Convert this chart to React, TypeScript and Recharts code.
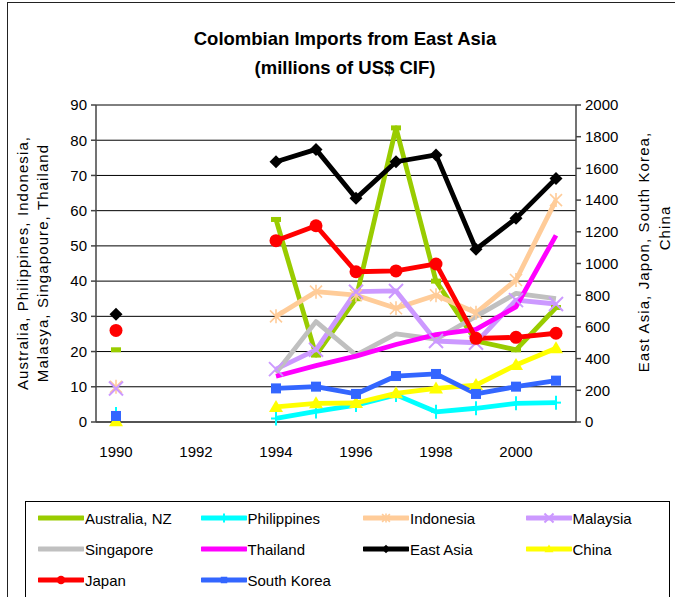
import React from 'react';
import { LineChart, Line, XAxis, YAxis, CartesianGrid } from 'recharts';

// yearly imports, millions of US$ CIF (1991-1993 not reported)
const years = [1990, 1991, 1992, 1993, 1994, 1995, 1996, 1997, 1998, 1999, 2000, 2001];

// left axis
const australiaNZ = [20.5, null, null, null, 57.5, 19, 35, 83.5, 40, 23, 20.5, 32.5];
const philippines = [2.3, null, null, null, 1, 3, 4.8, 7.7, 2.9, 3.9, 5.3, 5.5];
const indonesia = [10, null, null, null, 30, 37, 36, 32.3, 36, 31, 40.3, 63];
const malaysia = [9.5, null, null, null, 15, 20.5, 37, 37.2, 23, 22.5, 34.6, 33.5];
const singapore = [null, null, null, null, 14, 28.5, 19, 25, 23.5, 30, 36.5, 35];
const thailand = [null, null, null, null, 13, 16, 18.7, 22, 24.8, 26.3, 32.7, 53];

// right axis
const eastAsia = [680, null, null, null, 1642, 1720, 1411, 1642, 1685, 1090, 1285, 1537];
const china = [5, null, null, null, 95, 118, 120, 181, 212, 233, 360, 465];
const japan = [578, null, null, null, 1144, 1238, 948, 953, 997, 528, 534, 560];
const southKorea = [38, null, null, null, 212, 223, 177, 290, 303, 177, 223, 261];

const leftTicks = [0, 10, 20, 30, 40, 50, 60, 70, 80, 90];
const rightTicks = [0, 200, 400, 600, 800, 1000, 1200, 1400, 1600, 1800, 2000];
const yearLabels = [1990, 1992, 1994, 1996, 1998, 2000];
const yearBounds = [1989.5, 1990.5, 1991.5, 1992.5, 1993.5, 1994.5, 1995.5, 1996.5, 1997.5, 1998.5, 1999.5, 2000.5, 2001.5];

type MarkerKind = 'dash' | 'plus' | 'asterisk' | 'cross' | 'diamond' | 'triangle' | 'circle' | 'square' | 'none';

type Series = {
  key: string;
  name: string;
  color: string;
  axis: 'left' | 'right';
  marker: MarkerKind;
  values: (number | null)[];
};

// draw order: primary axis first, then secondary
const series: Series[] = [
  { key: 'australiaNZ', name: 'Australia, NZ', color: '#99CC00', axis: 'left', marker: 'dash', values: australiaNZ },
  { key: 'philippines', name: 'Philippines', color: '#00FFFF', axis: 'left', marker: 'plus', values: philippines },
  { key: 'indonesia', name: 'Indonesia', color: '#FFCC99', axis: 'left', marker: 'asterisk', values: indonesia },
  { key: 'malaysia', name: 'Malaysia', color: '#CC99FF', axis: 'left', marker: 'cross', values: malaysia },
  { key: 'singapore', name: 'Singapore', color: '#C0C0C0', axis: 'left', marker: 'none', values: singapore },
  { key: 'thailand', name: 'Thailand', color: '#FF00FF', axis: 'left', marker: 'none', values: thailand },
  { key: 'eastAsia', name: 'East Asia', color: '#000000', axis: 'right', marker: 'diamond', values: eastAsia },
  { key: 'china', name: 'China', color: '#FFFF00', axis: 'right', marker: 'triangle', values: china },
  { key: 'japan', name: 'Japan', color: '#FF0000', axis: 'right', marker: 'circle', values: japan },
  { key: 'southKorea', name: 'South Korea', color: '#3366FF', axis: 'right', marker: 'square', values: southKorea },
];

const data = years.map((year, i) => {
  const row: Record<string, number | null> = { year };
  series.forEach((s) => {
    row[s.key] = s.values[i];
  });
  return row;
});

const FONT = '"Liberation Sans", Arial, sans-serif';

function Marker({ kind, x, y, color, k = 1 }: { kind: MarkerKind; x: number; y: number; color: string; k?: number }) {
  switch (kind) {
    case 'dash':
      return <rect x={x - 5 * k} y={y - 2.5 * k} width={10 * k} height={5 * k} fill={color} />;
    case 'plus':
      return (
        <g stroke={color} strokeWidth={2}>
          <line x1={x} y1={y - 7 * k} x2={x} y2={y + 7 * k} />
          <line x1={x - 5 * k} y1={y} x2={x + 5 * k} y2={y} />
        </g>
      );
    case 'asterisk':
      return (
        <g stroke={color} strokeWidth={1.6}>
          <line x1={x} y1={y - 7 * k} x2={x} y2={y + 7 * k} />
          <line x1={x - 6 * k} y1={y - 6 * k} x2={x + 6 * k} y2={y + 6 * k} />
          <line x1={x - 6 * k} y1={y + 6 * k} x2={x + 6 * k} y2={y - 6 * k} />
        </g>
      );
    case 'cross':
      return (
        <g stroke={color} strokeWidth={2}>
          <line x1={x - 7 * k} y1={y - 7 * k} x2={x + 7 * k} y2={y + 7 * k} />
          <line x1={x - 7 * k} y1={y + 7 * k} x2={x + 7 * k} y2={y - 7 * k} />
        </g>
      );
    case 'diamond':
      return (
        <polygon
          points={`${x},${y - 6.5 * k} ${x + 6.5 * k},${y} ${x},${y + 6.5 * k} ${x - 6.5 * k},${y}`}
          fill={color}
        />
      );
    case 'triangle':
      return (
        <polygon points={`${x},${y - 7 * k} ${x + 7 * k},${y + 5 * k} ${x - 7 * k},${y + 5 * k}`} fill={color} />
      );
    case 'circle':
      return <circle cx={x} cy={y} r={6.5 * k} fill={color} />;
    case 'square':
      return <rect x={x - 5 * k} y={y - 5 * k} width={10 * k} height={10 * k} fill={color} />;
    default:
      return null;
  }
}

function makeDot(s: Series) {
  return (p: any) => {
    if (s.marker === 'none' || p.value == null || p.cy == null || Number.isNaN(p.cy)) {
      return <g key={`${s.key}-${p.index}`} />;
    }
    return (
      <g key={`${s.key}-${p.index}`}>
        <Marker kind={s.marker} x={p.cx} y={p.cy} color={s.color} />
      </g>
    );
  };
}

function LegendBox() {
  return (
    <div
      style={{
        position: 'absolute',
        left: 25,
        top: 501,
        width: 645,
        height: 120,
        border: '1px solid #000',
        boxSizing: 'border-box',
        background: '#fff',
      }}
    >
      {series.map((s, i) => {
        const col = i % 4;
        const row = Math.floor(i / 4);
        return (
          <div
            key={s.key}
            style={{
              position: 'absolute',
              left: 12 + col * 162.5,
              top: 16 + row * 31 - 10,
              height: 20,
              display: 'flex',
              alignItems: 'center',
              fontFamily: FONT,
              fontSize: 15,
              color: '#000',
              whiteSpace: 'nowrap',
            }}
          >
            <svg width={46} height={20} style={{ display: 'block' }}>
              <line x1={1} y1={10} x2={45} y2={10} stroke={s.color} strokeWidth={5} strokeLinecap="round" />
              <Marker kind={s.marker} x={23} y={10} color={s.color} k={0.65} />
            </svg>
            <span style={{ marginLeft: 1 }}>{s.name}</span>
          </div>
        );
      })}
    </div>
  );
}

export default function App() {
  const tickStyle = { fontFamily: FONT, fontSize: 15, fill: '#000' };
  return (
    <div
      style={{
        position: 'absolute',
        left: 0,
        top: 0,
        width: 675,
        height: 597,
        overflow: 'hidden',
        background: '#fff',
      }}
    >
      {/* chart frame */}
      <div
        style={{
          position: 'absolute',
          left: 7,
          top: 2,
          width: 720,
          height: 700,
          border: '1px solid #222',
          boxSizing: 'border-box',
        }}
      />
      <LineChart
        width={675}
        height={597}
        data={data}
        margin={{ top: 105, right: 49, bottom: 140, left: 56 }}
        style={{ position: 'absolute', left: 0, top: 0 }}
      >
        <XAxis
          xAxisId="frame"
          dataKey="year"
          type="number"
          domain={[1989.5, 2001.5]}
          ticks={yearBounds}
          tick={false}
          height={5}
          tickSize={5}
          axisLine={{ stroke: '#444', strokeWidth: 1.5 }}
          tickLine={{ stroke: '#444', strokeWidth: 1.5 }}
          allowDataOverflow
        />
        <XAxis
          xAxisId="labels"
          dataKey="year"
          type="number"
          domain={[1989.5, 2001.5]}
          ticks={yearLabels}
          height={30}
          tickSize={0}
          tickMargin={19}
          axisLine={false}
          tickLine={false}
          tick={tickStyle}
          interval={0}
          allowDataOverflow
        />
        <YAxis
          yAxisId="left"
          domain={[0, 90]}
          ticks={leftTicks}
          width={40}
          tickSize={5}
          tickMargin={4}
          interval={0}
          axisLine={{ stroke: '#444', strokeWidth: 1.5 }}
          tickLine={{ stroke: '#444', strokeWidth: 1.5 }}
          tick={tickStyle}
        />
        <YAxis
          yAxisId="right"
          orientation="right"
          domain={[0, 2000]}
          ticks={rightTicks}
          width={50}
          tickSize={5}
          tickMargin={4}
          interval={0}
          axisLine={{ stroke: '#444', strokeWidth: 1.5 }}
          tickLine={{ stroke: '#444', strokeWidth: 1.5 }}
          tick={tickStyle}
        />
        <CartesianGrid xAxisId="frame" yAxisId="left" vertical={false} stroke="#000" strokeWidth={1} />
        {series.map((s) => (
          <Line
            key={s.key}
            xAxisId="frame"
            yAxisId={s.axis}
            dataKey={s.key}
            name={s.name}
            type="linear"
            stroke={s.color}
            strokeWidth={4.8}
            strokeLinejoin="round"
            dot={makeDot(s)}
            activeDot={false}
            connectNulls={false}
            isAnimationActive={false}
          />
        ))}
      </LineChart>
      {/* titles */}
      <svg
        width={675}
        height={597}
        style={{ position: 'absolute', left: 0, top: 0, pointerEvents: 'none' }}
        fontFamily={FONT}
      >
        <text x={345} y={38} textAnchor="middle" dominantBaseline="central" fontSize={18.5} fontWeight="bold">
          Colombian Imports from East Asia
        </text>
        <text x={345} y={67} textAnchor="middle" dominantBaseline="central" fontSize={18.5} fontWeight="bold">
          (millions of US$ CIF)
        </text>
        <g fontSize={15} letterSpacing={1.1} textAnchor="middle" dominantBaseline="central">
          <text x={22} y={263} transform="rotate(-90 22 263)">
            Australia, Philippines, Indonesia,
          </text>
          <text x={42} y={263} transform="rotate(-90 42 263)">
            Malasya, Singapoure, Thailand
          </text>
          <text x={643} y={252} transform="rotate(-90 643 252)">
            East Asia, Japon, South Korea,
          </text>
          <text x={664} y={228} transform="rotate(-90 664 228)">
            China
          </text>
        </g>
      </svg>
      <LegendBox />
    </div>
  );
}
